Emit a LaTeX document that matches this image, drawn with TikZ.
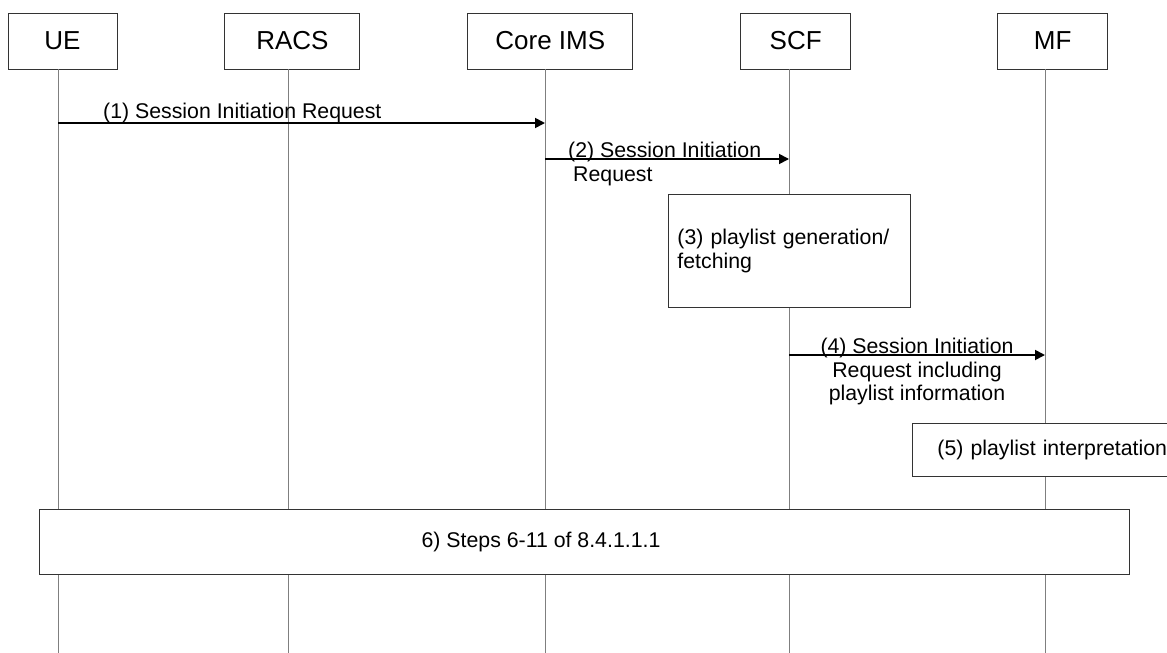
\documentclass[tikz,border=0pt]{standalone}
\usepackage{fontspec}
\setmainfont{Liberation Sans}
\usepackage{tikz}
\usetikzlibrary{arrows.meta,positioning}
\definecolor{ink}{HTML}{000000}
\definecolor{frame}{HTML}{333333}
\definecolor{life}{HTML}{7F7F7F}
\tikzset{
  entity/.style={rectangle,draw=frame,fill=white,line width=0.9pt,
    minimum height=56pt,inner sep=0pt,font=\fontsize{26}{28}\selectfont},
  stepbox/.style={rectangle,draw=frame,fill=white,line width=0.9pt,
    inner sep=0pt,font=\fontsize{21.3}{23.5}\selectfont},
  lifeline/.style={draw=life,line width=0.9pt},
  msg/.style={-{Triangle[length=10pt,width=10pt]},line width=1.8pt,draw=ink},
  msglabel/.style={inner sep=0pt,font=\fontsize{21.3}{23.5}\selectfont}
}

\begin{document}
\begin{tikzpicture}[x=1pt,y=-1pt,node distance=107pt]
\clip (0,0) rectangle (1167,653);
% entities
\node[entity,minimum width=109pt] (ue) at (62.5,41) {UE};
\node[entity,minimum width=135pt,right=of ue] (racs) {RACS};
\node[entity,minimum width=165pt,right=of racs] (ims) {Core IMS};
\node[entity,minimum width=110pt,right=of ims] (scf) {SCF};
\node[entity,minimum width=110pt,right=146pt of scf] (mf) {MF};
% lifelines
\coordinate (ue-end) at (58,653);
\coordinate (racs-end) at (288,653);
\coordinate (ims-end) at (545,653);
\coordinate (scf-end) at (789,653);
\coordinate (mf-end) at (1045,653);
\foreach \e in {ue,racs,ims,scf,mf}
  \draw[lifeline] (\e-end |- \e.south) -- (\e-end);
% boxes
\node[stepbox,anchor=north west,minimum width=242pt,minimum height=113pt,
  text width=224pt,inner xsep=9pt,align=left] (gen) at (668,194)
  {(3) playlist generation/\\fetching};
\node[stepbox,anchor=north west,minimum height=53pt,text width=240pt,
  inner xsep=25pt,align=left] (interp) at (912,423) {(5) playlist interpretation};
\node[stepbox,anchor=north west,minimum width=1090pt,minimum height=65pt] (steps) at (39,509) {};
\node[msglabel] (steps-txt) at (541,541.5) {6) Steps 6-11 of 8.4.1.1.1};
% messages
\coordinate (m1) at (0,123);
\coordinate (m2) at (0,159);
\coordinate (m4) at (0,355);
\draw[msg] (ue-end |- m1) -- (ims-end |- m1);
\node[msglabel,anchor=base west] (m1-txt) at (103,118) {(1) Session Initiation Request};
\draw[msg] (ims-end |- m2) -- (scf-end |- m2);
\node[msglabel,anchor=north west,align=left] (m2-txt) at (568,142)
  {(2) Session Initiation\\\hspace*{5pt}Request};
\draw[msg] (scf-end |- m4) -- (mf-end |- m4);
\node[msglabel,anchor=north,align=center] (m4-txt) at (917,338)
  {(4) Session Initiation\\Request including\\playlist information};
\end{tikzpicture}
\end{document}
